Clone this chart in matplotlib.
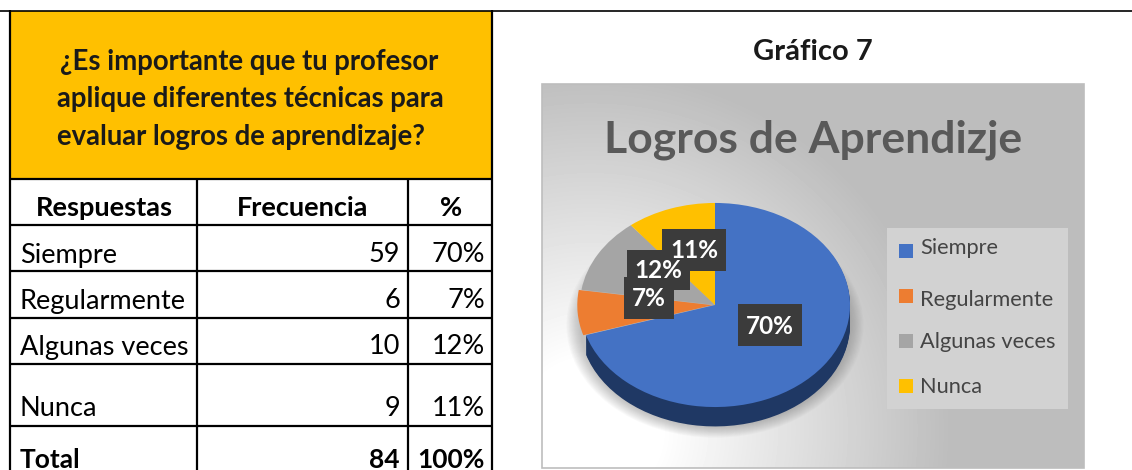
import numpy as np
import matplotlib
matplotlib.use('Agg')
import matplotlib.pyplot as plt
from matplotlib.patches import Rectangle, Ellipse

plt.rcParams['font.family'] = ['Lato', 'DejaVu Sans']

# Data
respuestas = ['Siempre', 'Regularmente', 'Algunas veces', 'Nunca']
frecuencia = [59, 6, 10, 9]
porcentaje = [70, 7, 12, 11]
total_frec = 84
total_pct = 100
pregunta = ['¿Es importante que tu profesor',
            'aplique diferentes técnicas para',
            'evaluar logros de aprendizaje?']
colors = ['#4472C4', '#ED7D31', '#A5A5A5', '#FFC000']
side_colors = ['#1F3864', 'none', 'none', 'none']

W, H = 1132, 470
fig = plt.figure(figsize=(W / 100, H / 100), dpi=100)
fig.patch.set_facecolor('white')

# everything but the pie is laid out in pixels
ax = fig.add_axes([0, 0, 1, 1], zorder=1)
ax.axis('off')


def px_axes(x0, y0, x1, y1, z):
    a = fig.add_axes([x0 / W, 1 - y1 / H, (x1 - x0) / W, (y1 - y0) / H], zorder=z)
    a.axis('off')
    return a


# Table
ax.add_patch(Rectangle((9, 11), 483, 168, color='#FFC000', lw=0))
line = dict(color='black', lw=1.6, solid_capstyle='butt')
ax.plot([0, W], [10.5, 10.5], color='black', lw=1.2)
for x in [9.5, 492]:
    ax.plot([x, x], [10, H], **line)
for x in [197, 408]:
    ax.plot([x, x], [179, H], **line)
for y in [179, 225, 271, 318, 364, 426]:
    ax.plot([9, 492], [y, y], **line)

for x, y, s in zip([60, 57, 57], [62, 99, 137], pregunta):
    ax.text(x, y, s, fontsize=19.8, fontweight='bold', color='#1a1a1a', va='center')

head = dict(fontsize=19.5, fontweight='bold', color='black', va='center', ha='center')
ax.text(104, 208, 'Respuestas', **head)
ax.text(303, 208, 'Frecuencia', **head)
ax.text(451, 208, '%', **head)

row_y = [255, 301, 347, 408]
cell = dict(fontsize=19.5, color='black', va='center')
for y, r, f, p in zip(row_y, respuestas, frecuencia, porcentaje):
    ax.text(20, y, r, **cell)
    ax.text(400, y, str(f), ha='right', **cell)
    ax.text(485, y, '%d%%' % p, ha='right', **cell)
bold = dict(fontsize=19, fontweight='bold', color='black', va='center')
ax.text(20, 460, 'Total', **bold)
ax.text(400, 460, str(total_frec), ha='right', **bold)
ax.text(485, 460, '%d%%' % total_pct, ha='right', **bold)

# Chart panel
ax.text(813, 52, 'Gráfico 7', fontsize=21, fontweight='bold', color='#1a1a1a',
        ha='center', va='center')

px0, py0, px1, py1 = 542, 84, 1084, 468
xx, yy = np.meshgrid(np.arange(px0, px1), np.arange(py0, py1))
dist = np.hypot(xx - 590, yy - 430)
shade = 1 - 0.26 * np.clip((dist - 70) / 290, 0, 1)
ax.imshow(shade, extent=(px0, px1, py1, py0), cmap='gray', vmin=0, vmax=1,
          aspect='auto', zorder=0)
ax.set_xlim(0, W)
ax.set_ylim(H, 0)
ax.add_patch(Rectangle((px0, py0), px1 - px0, py1 - py0, fill=False,
                       ec='#bdbdbd', lw=1.2, zorder=1))
ax.text(813, 140, 'Logros de Aprendizje', fontsize=32, fontweight='bold',
        color='#595959', ha='center', va='center')

# Pie, squashed to look tilted
pie_ax = px_axes(565, 180, 865, 430, 2)
wedge_kw = dict(startangle=90, counterclock=False, radius=1, normalize=True)
explode = [0, 0.02, 0, 0]
for grow in np.linspace(.1, 0, 12):
    pie_ax.add_patch(Ellipse((0, -.2), 2 * (1 + grow), 2 * (1 + grow), color='#555555',
                             alpha=.03, lw=0, clip_on=False))
for depth in np.arange(.19, 0, -.01):
    pie_ax.pie(frecuencia, colors=side_colors, explode=explode, center=(0, -depth),
               wedgeprops=dict(lw=0), **wedge_kw)
pie_ax.pie(frecuencia, colors=colors, explode=explode, center=(0, 0),
           wedgeprops=dict(lw=0), **wedge_kw)
pie_ax.set_aspect('auto')
pie_ax.set_xlim(-1.111, 1.111)
pie_ax.set_ylim(-1.225, 1.225)

# Data labels on top
lab = px_axes(0, 0, W, H, 3)
lab.set_xlim(0, W)
lab.set_ylim(H, 0)
boxes = [(738, 304, 64, 42), (624, 277, 50, 42), (627, 250, 63, 40), (662, 229, 64, 42)]
for i in [0, 1, 2, 3]:
    bx, by, bw, bh = boxes[i]
    lab.add_patch(Rectangle((bx, by), bw, bh, color='#3b3b3b', lw=0))
    lab.text(bx + bw / 2, by + bh / 2 + 1, '%d%%' % porcentaje[i], color='white',
             fontsize=17.5, fontweight='bold', ha='center', va='center')

# Legend
lab.add_patch(Rectangle((887, 228), 181, 181, color='#d2d2d2', lw=0))
key_y = [251, 296, 341, 386]
text_y = [248, 300, 342, 387]
for ky, ty, r, c in zip(key_y, text_y, respuestas, colors):
    lab.add_patch(Rectangle((899, ky - 7), 14, 14, color=c, lw=0))
    lab.text(920, ty, r, fontsize=15.7, color='#444444', va='center')

fig.savefig('out.png', dpi=100)
